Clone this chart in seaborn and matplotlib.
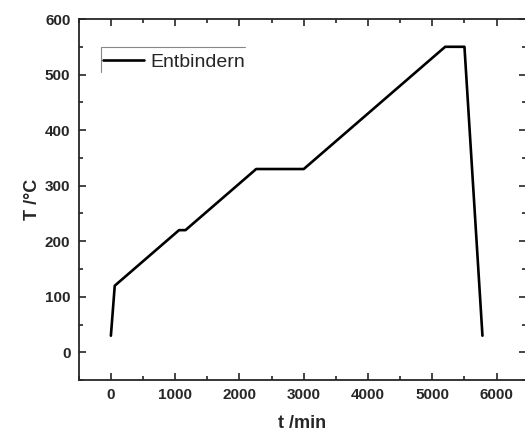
import pandas as pd
import seaborn as sns
import matplotlib.pyplot as plt
from matplotlib.ticker import MultipleLocator
from matplotlib.lines import Line2D

# Temperaturprogramm Entbindern
t_min = [0, 60, 1060, 1160, 2260, 3000, 5200, 5500, 5780]
T_C = [30, 120, 220, 220, 330, 330, 550, 550, 30]
x_ticks = [0, 1000, 2000, 3000, 4000, 5000, 6000]
y_ticks = [0, 100, 200, 300, 400, 500, 600]

df = pd.DataFrame({'t': t_min, 'T': T_C, 'Programm': 'Entbindern'})

sns.set_style('ticks')
plt.rcParams['font.family'] = ['Liberation Sans', 'DejaVu Sans']

fig = plt.figure(figsize=(5.25, 4.32), dpi=100)
ax = fig.add_axes([0.150, 0.120, 0.851, 0.836])

sns.lineplot(data=df, x='t', y='T', hue='Programm', palette=['black'],
             sort=False, linewidth=1.9, ax=ax, legend=False)

ax.set_xlim(-500, 6450)
ax.set_ylim(-50, 600)
ax.set_xticks(x_ticks)
ax.set_yticks(y_ticks)
ax.xaxis.set_minor_locator(MultipleLocator(500))
ax.yaxis.set_minor_locator(MultipleLocator(50))
ax.tick_params(which='both', direction='in', top=True, right=True, width=1.2)
ax.tick_params(which='major', length=5, labelsize=11, pad=6)
ax.tick_params(which='minor', length=3)
for lab in ax.get_xticklabels() + ax.get_yticklabels():
    lab.set_fontweight('bold')
for s in ax.spines.values():
    s.set_linewidth(1.3)

ax.set_xlabel('t /min', fontsize=13, fontweight='bold', labelpad=9)
ax.set_ylabel('T /°C', fontsize=13, fontweight='bold', labelpad=3)

handle = Line2D([], [], color='black', linewidth=1.9)
leg = ax.legend([handle], ['Entbindern'], loc='center left',
                bbox_to_anchor=(0.054, 0.881), frameon=False, fontsize=14,
                handlelength=2.1, handletextpad=0.35, borderaxespad=0,
                borderpad=0)

# only top and left edge of the legend frame, like in the original
ax.plot([0.05, 0.372], [0.922, 0.922], color='#888888',
        linewidth=0.8, transform=ax.transAxes, clip_on=False)
ax.plot([0.05, 0.05], [0.922, 0.853], color='#888888',
        linewidth=0.8, transform=ax.transAxes, clip_on=False)

fig.savefig('out.png', dpi=100)
